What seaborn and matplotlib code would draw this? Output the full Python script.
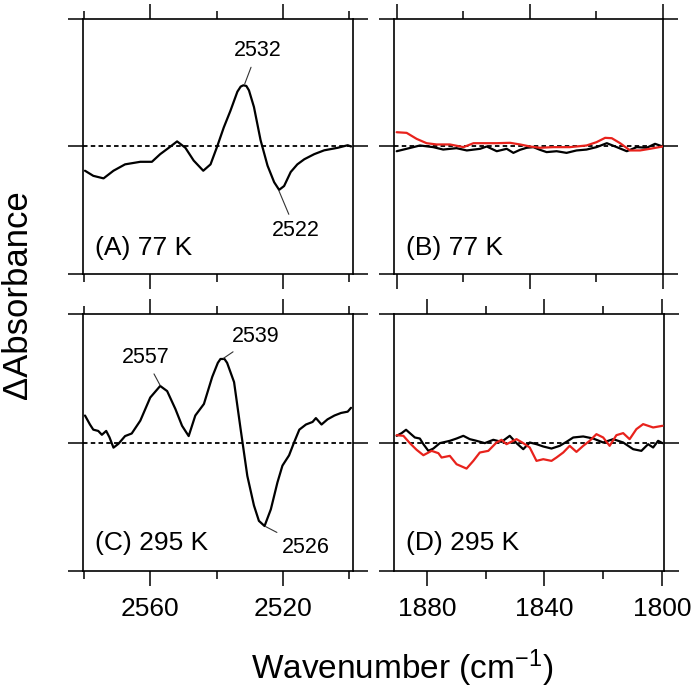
import numpy as np
import pandas as pd
import matplotlib
matplotlib.use("Agg")
import matplotlib.pyplot as plt
import seaborn as sns
from matplotlib.ticker import FixedLocator, NullFormatter

# Panel A: 77 K, S-H region
a_wn = [2579.7, 2577.2, 2574.1, 2571.1, 2567.6, 2563.0, 2559.5, 2557.0, 2554.4, 2551.9,
        2549.4, 2546.9, 2544.0, 2541.8, 2539.8, 2537.8, 2535.8, 2533.7, 2532.7, 2531.9,
        2531.0, 2530.2, 2528.7, 2526.7, 2524.6, 2522.6, 2521.1, 2519.6, 2517.6, 2515.6,
        2513.5, 2510.5, 2507.5, 2503.4, 2500.4, 2499.4]
a_abs = [-0.19, -0.23, -0.25, -0.19, -0.14, -0.12, -0.12, -0.06, -0.01, 0.04,
         -0.01, -0.11, -0.19, -0.14, 0.0, 0.15, 0.28, 0.43, 0.47, 0.48,
         0.475, 0.44, 0.31, 0.05, -0.15, -0.28, -0.34, -0.31, -0.20, -0.14,
         -0.10, -0.06, -0.03, -0.01, 0.01, 0.0]

# Panel B: 77 K, 1890-1800 region (black and red traces)
b_wn_black = [1880.1, 1877.1, 1873.1, 1869.1, 1866.1, 1862.1, 1859.0, 1855.0, 1853.0, 1850.0,
              1847.0, 1845.0, 1843.0, 1841.0, 1839.0, 1837.0, 1835.0, 1832.0, 1829.0, 1826.0,
              1823.0, 1820.0, 1816.9, 1813.9, 1810.9, 1807.9, 1804.9, 1802.4, 1800.1]
b_abs_black = [-0.037, -0.018, 0.008, -0.005, -0.024, -0.013, -0.031, -0.018, 0.0, -0.037,
               -0.018, -0.05, -0.026, -0.01, -0.005, -0.026, -0.044, -0.037, -0.05, -0.031,
               -0.024, -0.005, 0.026, -0.005, -0.037, -0.005, -0.01, 0.021, 0.0]
b_wn_red = [1880.1, 1877.1, 1874.1, 1871.1, 1868.1, 1864.1, 1860.0, 1857.0, 1854.0, 1850.0,
            1846.0, 1843.0, 1840.0, 1837.0, 1833.0, 1828.0, 1823.0, 1820.0, 1817.4, 1815.4,
            1812.9, 1809.9, 1806.9, 1803.9, 1800.1]
b_abs_red = [0.112, 0.107, 0.06, 0.026, 0.016, 0.016, -0.005, 0.026, 0.026, 0.026,
             0.029, 0.016, 0.0, -0.01, -0.005, -0.005, 0.008, 0.034, 0.068, 0.065,
             0.026, -0.031, -0.031, -0.018, 0.0]

# Panel C: 295 K, S-H region
c_wn = [2579.7, 2578.2, 2577.2, 2575.7, 2574.6, 2573.3, 2572.3, 2571.1, 2569.6, 2567.6,
        2565.6, 2563.0, 2560.0, 2557.0, 2554.9, 2552.4, 2550.4, 2548.4, 2546.4, 2543.8,
        2541.3, 2539.6, 2538.8, 2537.6, 2536.8, 2534.7, 2532.7, 2530.7, 2528.7, 2527.2,
        2525.5, 2523.6, 2521.6, 2520.1, 2518.1, 2516.6, 2515.0, 2513.0, 2511.0, 2510.0,
        2508.3, 2506.5, 2504.4, 2502.4, 2500.4, 2499.4]
c_abs = [0.21, 0.14, 0.10, 0.09, 0.06, 0.09, 0.04, -0.04, -0.01, 0.05,
         0.07, 0.17, 0.35, 0.44, 0.40, 0.26, 0.13, 0.05, 0.21, 0.30,
         0.51, 0.62, 0.65, 0.65, 0.62, 0.47, 0.10, -0.26, -0.49, -0.61,
         -0.65, -0.52, -0.31, -0.18, -0.10, 0.0, 0.10, 0.14, 0.16, 0.19,
         0.14, 0.18, 0.21, 0.23, 0.24, 0.27]

# Panel D: 295 K, 1890-1800 region
d_wn_black = [1890.3, 1888.6, 1887.1, 1885.8, 1884.1, 1882.4, 1881.2, 1879.5, 1877.8, 1875.6,
              1872.2, 1869.9, 1867.6, 1865.4, 1863.1, 1860.3, 1857.4, 1854.6, 1851.8, 1849.5,
              1847.2, 1845.0, 1842.7, 1840.4, 1837.6, 1834.8, 1832.5, 1830.2, 1826.8, 1823.4,
              1820.0, 1816.6, 1813.2, 1809.8, 1807.0, 1804.7, 1803.0, 1801.3, 1799.8]
d_abs_black = [0.052, 0.073, 0.099, 0.073, 0.039, 0.031, -0.013, -0.065, -0.047, -0.005,
               0.013, 0.031, 0.052, 0.026, 0.013, -0.005, 0.021, 0.005, 0.052, -0.005,
               -0.052, 0.0, -0.013, -0.031, -0.047, -0.026, 0.005, 0.039, 0.047, 0.031,
               0.0, 0.026, 0.0, -0.052, -0.065, -0.013, -0.039, 0.013, -0.005]
d_wn_red = [1890.3, 1888.0, 1885.8, 1883.5, 1881.2, 1878.4, 1876.1, 1875.0, 1872.2, 1869.9,
            1866.5, 1864.2, 1862.0, 1859.1, 1856.3, 1854.6, 1852.9, 1849.5, 1847.2, 1845.0,
            1842.7, 1840.4, 1837.6, 1835.9, 1833.6, 1831.4, 1829.1, 1826.8, 1824.6, 1822.3,
            1820.0, 1817.8, 1815.5, 1813.2, 1811.0, 1808.7, 1806.4, 1803.0, 1799.8]
d_abs_red = [0.057, 0.052, -0.005, -0.057, -0.099, -0.065, -0.083, -0.117, -0.104, -0.169,
             -0.203, -0.143, -0.078, -0.065, 0.0, 0.021, -0.013, 0.026, -0.005, -0.039,
             -0.143, -0.130, -0.143, -0.117, -0.078, -0.026, -0.073, -0.026, 0.013, 0.065,
             0.039, -0.026, 0.057, 0.073, 0.026, 0.104, 0.143, 0.117, 0.130]

# peak labels: (text, peak wn, peak abs, text wn, text abs)
a_peaks = [("2532", 2531.5, 0.49, 2527.7, 0.75), ("2522", 2521.2, -0.345, 2516.1, -0.66)]
c_peaks = [("2557", 2557.0, 0.444, 2561.5, 0.66), ("2539", 2537.9, 0.655, 2528.2, 0.825),
           ("2526", 2525.2, -0.654, 2513.0, -0.817)]

panel_labels = ["(A) 77 K", "(B) 77 K", "(C) 295 K", "(D) 295 K"]

RED = '#e8221c'

sns.set_theme(style='white')
plt.rcParams['font.family'] = ['Liberation Sans', 'DejaVu Sans']
plt.rcParams['mathtext.fontset'] = 'custom'
plt.rcParams['mathtext.rm'] = 'Liberation Sans'
plt.rcParams['mathtext.default'] = 'regular'
plt.rcParams['text.color'] = 'black'
plt.rcParams['xtick.color'] = 'black'
plt.rcParams['ytick.color'] = 'black'

W, H = 693, 692
fig = plt.figure(figsize=(W / 100, H / 100), dpi=100)


def px_axes(left, top, right, bottom):
    return fig.add_axes([left / W, 1 - bottom / H, (right - left) / W, (bottom - top) / H])


ax_a = px_axes(83, 19, 353, 274)
ax_b = px_axes(394, 19, 663, 274)
ax_c = px_axes(83, 314, 353, 571)
ax_d = px_axes(394, 314, 664, 571)


def style_axes(ax, xlim, major, minor, show_labels):
    ax.set_xlim(*xlim)
    ax.set_ylim(-1, 1)
    ax.axhline(0, color='black', lw=1.3, ls=(0, (2.5, 1.8)), zorder=1)
    ax.xaxis.set_major_locator(FixedLocator(major))
    ax.xaxis.set_minor_locator(FixedLocator(minor))
    ax.set_yticks([-1, 0, 1])
    ax.set_yticklabels([])
    ax.tick_params(which='both', direction='out', bottom=True, left=True, top=True, right=True,
                   width=1.1, color='black', labelsize=19, labelcolor='black', pad=8)
    ax.tick_params(which='major', length=11)
    ax.tick_params(which='minor', length=5.5)
    if not show_labels:
        ax.xaxis.set_major_formatter(NullFormatter())
    ax.set_xlabel('')
    ax.set_ylabel('')
    for sp in ax.spines.values():
        sp.set_color('black')
        sp.set_linewidth(1.2)


def draw(ax, wn, ab, color):
    df = pd.DataFrame({'wn': wn, 'abs': ab})
    sns.lineplot(data=df, x='wn', y='abs', ax=ax, color=color, lw=1.6, zorder=3)


draw(ax_a, a_wn, a_abs, 'black')
draw(ax_b, b_wn_black, b_abs_black, 'black')
draw(ax_b, b_wn_red, b_abs_red, RED)
draw(ax_c, c_wn, c_abs, 'black')
draw(ax_d, d_wn_black, d_abs_black, 'black')
draw(ax_d, d_wn_red, d_abs_red, RED)

style_axes(ax_a, (2580.3, 2498.8), [2560, 2520], [2580, 2540, 2500], False)
style_axes(ax_b, (1880.9, 1800.0), [1880, 1840, 1800], [1860, 1820], False)
style_axes(ax_c, (2580.3, 2498.8), [2560, 2520], [2580, 2540, 2500], True)
style_axes(ax_d, (1891.2, 1799.3), [1880, 1840, 1800], [1860, 1820], True)

for ax, peaks in [(ax_a, a_peaks), (ax_c, c_peaks)]:
    for txt, px, py, tx, ty in peaks:
        ax.annotate(txt, xy=(px, py), xytext=(tx, ty), fontsize=15.5,
                    ha='center', va='center',
                    arrowprops=dict(arrowstyle='-', color='#333333', lw=0.8,
                                    shrinkA=2, shrinkB=0))

for ax, lab, ypos in zip([ax_a, ax_b, ax_c, ax_d], panel_labels, [0.102, 0.102, 0.109, 0.109]):
    ax.text(0.044, ypos, lab, transform=ax.transAxes, fontsize=19, ha='left', va='center')

fig.text(18 / W, 1 - 295 / H, '\u0394Absorbance', rotation=90, fontsize=25,
         ha='center', va='center')
fig.text(402 / W, 1 - 668 / H, 'Wavenumber (cm$^{-1}$)', fontsize=24,
         ha='center', va='center')

fig.savefig('out.png', dpi=100)
